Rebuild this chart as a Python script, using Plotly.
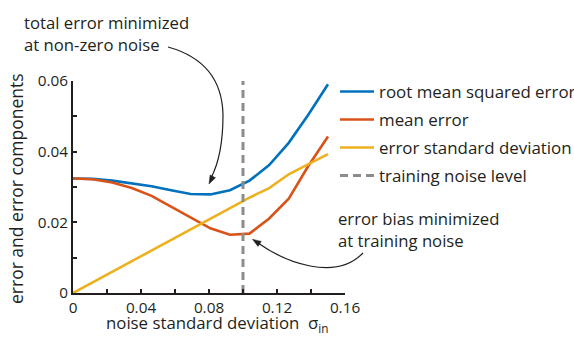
import math
import plotly.graph_objects as go

# ---- data ----
noise_sd = [0, 0.0115, 0.0231, 0.0346, 0.0462, 0.0577, 0.0692, 0.0808,
            0.0923, 0.1038, 0.1154, 0.1269, 0.1385, 0.15]
rmse = [0.0324, 0.0323, 0.0318, 0.0311, 0.0302, 0.0291, 0.0280, 0.0279,
        0.0291, 0.0318, 0.0362, 0.0425, 0.0505, 0.0591]
mean_err = [0.0324, 0.0322, 0.0313, 0.0297, 0.0275, 0.0244, 0.0213, 0.0183,
            0.0165, 0.0168, 0.0211, 0.0267, 0.0360, 0.0443]
err_sd = [0, 0.0030, 0.0060, 0.0090, 0.0120, 0.0150, 0.0180, 0.0210,
          0.0240, 0.0270, 0.0297, 0.0336, 0.0365, 0.0393]
training_noise = 0.1
training_line_y = [0, 0.06]

series_names = ["root mean squared error", "mean error",
                "error standard deviation", "training noise level"]
x_tickvals = [0, 0.04, 0.08, 0.12, 0.16]
x_ticktext = ["0", "0.04", "0.08", "0.12", "0.16"]
x_minor_vals = [0.02, 0.06, 0.10, 0.14]
y_tickvals = [0, 0.02, 0.04, 0.06]
y_ticktext = ["0", "0.02", "0.04", "0.06"]
y_minor_vals = [0.01, 0.03, 0.05]

FONT = "Open Sans"
TXT = "#231f20"
FS_TICK = 15.3
FS_LEG = 16.9
FS_ANN = 16.7

W, H = 574, 337
L, R, T, B = 73, 229, 81, 44
PW, PH = W - L - R, H - T - B


def px(xp):
    return (xp - L) / PW


def py(yp):
    return (H - B - yp) / PH


def head(tip, frm, length=8.5, half=3.0):
    dx, dy = tip[0] - frm[0], tip[1] - frm[1]
    n = math.hypot(dx, dy)
    dx, dy = dx / n, dy / n
    bx, by = tip[0] - length * dx, tip[1] - length * dy
    nx, ny = -dy, dx
    p1 = (bx + half * nx, by + half * ny)
    p2 = (bx - half * nx, by - half * ny)
    return (f"M {px(tip[0])},{py(tip[1])} L {px(p1[0])},{py(p1[1])} "
            f"L {px(p2[0])},{py(p2[1])} Z")


fig = go.Figure()
fig.add_trace(go.Scatter(x=noise_sd, y=rmse, mode="lines", name=series_names[0],
                         legendgroup="a", line=dict(color="#0072BD", width=2.6)))
fig.add_trace(go.Scatter(x=noise_sd, y=mean_err, mode="lines", name=series_names[1],
                         legendgroup="b", line=dict(color="#D95319", width=2.6)))
fig.add_trace(go.Scatter(x=noise_sd, y=err_sd, mode="lines", name=series_names[2],
                         legendgroup="c", line=dict(color="#EDB120", width=2.6)))
fig.add_trace(go.Scatter(x=[training_noise, training_noise], y=training_line_y,
                         mode="lines", name=series_names[3], legendgroup="d",
                         line=dict(color="#8c8c8c", width=3, dash="8px,5px")))

# curved arrows
fig.add_shape(type="path", xref="paper", yref="paper",
              path=f"M {px(168)},{py(47)} Q {px(222)},{py(62)} {px(223)},{py(115)} "
                   f"Q {px(223)},{py(155)} {px(211)},{py(178)}",
              line=dict(color=TXT, width=1.2))
fig.add_shape(type="path", xref="paper", yref="paper", fillcolor=TXT,
              path=head((209, 184), (216, 170)), line=dict(color=TXT, width=0.5))
fig.add_shape(type="path", xref="paper", yref="paper",
              path=f"M {px(258)},{py(243)} C {px(285)},{py(262)} {px(335)},{py(282)} {px(363)},{py(253)}",
              line=dict(color=TXT, width=1.2))
fig.add_shape(type="path", xref="paper", yref="paper", fillcolor=TXT,
              path=head((252.5, 239.3), (266, 248)), line=dict(color=TXT, width=0.5))

anns = [
    dict(x=px(21.5), y=py(9), xref="paper", yref="paper", xanchor="left", yanchor="top",
         align="left", showarrow=False, text="total error minimized<br>at non-zero noise",
         font=dict(family=FONT, size=FS_ANN, color=TXT)),
    dict(x=px(335.5), y=py(205), xref="paper", yref="paper", xanchor="left", yanchor="top",
         align="left", showarrow=False, text="error bias minimized<br>at training noise",
         font=dict(family=FONT, size=FS_ANN, color=TXT)),
    dict(x=px(217), y=py(337), xref="paper", yref="paper", xanchor="center", yanchor="bottom",
         showarrow=False, borderpad=0, text="noise standard deviation  σ<sub>in</sub>",
         font=dict(family=FONT, size=16.8, color=TXT)),
    dict(x=px(16), y=py(189), xref="paper", yref="paper", xanchor="center", yanchor="middle",
         textangle=-90, showarrow=False, text="error and error components",
         font=dict(family=FONT, size=17.5, color=TXT)),
]

axis_common = dict(showgrid=False, zeroline=False, showline=True, linecolor=TXT, linewidth=2,
                   ticks="inside", ticklen=4, tickwidth=2, tickcolor=TXT,
                   tickfont=dict(family=FONT, size=FS_TICK, color=TXT), tickmode="array")
minor_common = dict(ticks="inside", ticklen=4, tickwidth=2, tickcolor=TXT,
                    tickmode="array", showgrid=False)

fig.update_layout(
    width=W, height=H,
    margin=dict(l=L, r=R, t=T, b=B, pad=0, autoexpand=False),
    paper_bgcolor="white", plot_bgcolor="white",
    xaxis=dict(range=[0, 0.16], tickvals=x_tickvals, ticktext=x_ticktext,
               minor=dict(tickvals=x_minor_vals, **minor_common), **axis_common),
    yaxis=dict(range=[0, 0.06], tickvals=y_tickvals, ticktext=y_ticktext,
               minor=dict(tickvals=y_minor_vals, **minor_common), **axis_common),
    legend=dict(x=px(335), y=py(74), xanchor="left", yanchor="top", tracegroupgap=3,
                itemwidth=34,
                font=dict(family=FONT, size=FS_LEG, color=TXT), bgcolor="rgba(0,0,0,0)"),
    annotations=anns,
    showlegend=True,
)

fig.write_html("out.html")
